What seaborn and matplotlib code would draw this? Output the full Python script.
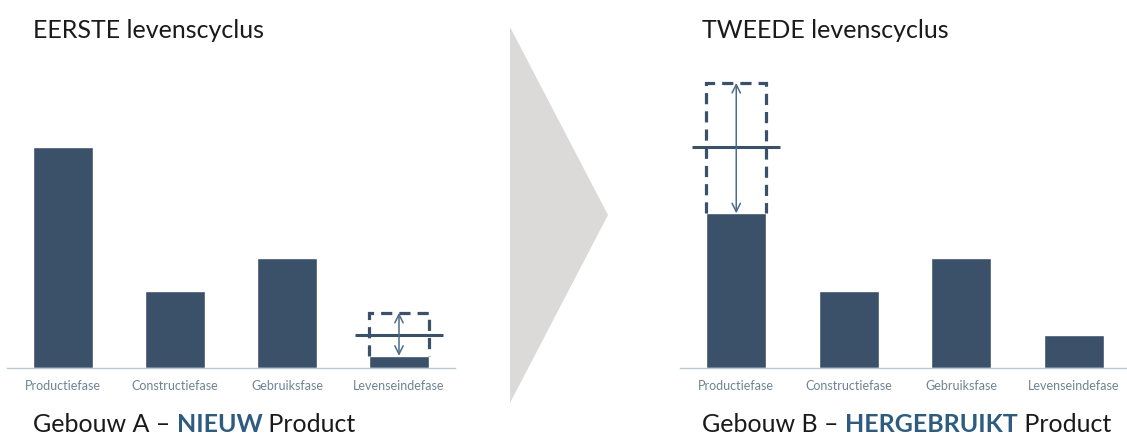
import matplotlib
matplotlib.use("Agg")
import matplotlib.pyplot as plt
from matplotlib.patches import Polygon
import seaborn as sns

# Gegevens
fases = ["Productiefase", "Constructiefase", "Gebruiksfase", "Levenseindefase"]
impact_a = [100, 35, 50, 5.5]     # Gebouw A - nieuw product
impact_b = [70, 35, 50, 15]       # Gebouw B - hergebruikt product

# fase met verschoven impact, niveau van de lijn en bovenkant van het gestippelde kader
shift_a = {"fase": "Levenseindefase", "ref": 15, "top": 25}
shift_b = {"fase": "Productiefase", "ref": 100, "top": 129}

titles = ["EERSTE levenscyclus", "TWEEDE levenscyclus"]
captions = [("Gebouw A – ", "NIEUW", " Product"), ("Gebouw B – ", "HERGEBRUIKT", " Product")]

bar_color = "#3b5069"
arrow_color = "#4b6c88"
label_color = "#6f8394"
accent = "#2e5c80"
BAR_W = 0.53

sns.set_style("white")
plt.rcParams["font.family"] = ["Lato", "DejaVu Sans"]

W, H = 1127, 441
fig = plt.figure(figsize=(W / 100, H / 100), dpi=100)

base = (441 - 368) / H
height = 309.4 / H
ax_a = fig.add_axes([7 / W, base, 448 / W, height])
ax_b = fig.add_axes([680 / W, base, 450 / W, height])


def draw_panel(ax, values, shift):
    sns.barplot(x=fases, y=values, color=bar_color, saturation=1, width=BAR_W, ax=ax)
    i = fases.index(shift["fase"])
    val = values[i]
    # gestippeld kader (zijkanten en bovenkant)
    left, right = i - BAR_W / 2, i + BAR_W / 2
    ax.plot([left, left, right, right], [val, shift["top"], shift["top"], val],
            color=bar_color, linestyle=(0, (3.5, 2.2)), linewidth=2.3,
            dash_joinstyle="miter")
    ax.hlines(shift["ref"], i - 0.39, i + 0.39, color=bar_color, linewidth=2.2)
    ax.annotate("", xy=(i, val), xytext=(i, shift["top"]),
                arrowprops=dict(arrowstyle="<->,head_length=0.6,head_width=0.3",
                                color=arrow_color, lw=1.1, shrinkA=0, shrinkB=0))
    ax.set_xlim(-0.5, 3.5)
    ax.set_ylim(0, 140)
    ax.set_xlabel("")
    ax.set_ylabel("")
    ax.set_yticks([])
    ax.tick_params(axis="x", length=0, pad=9, labelsize=9, labelcolor=label_color)
    sns.despine(ax=ax, left=True)
    ax.spines["bottom"].set_color("#b8cad6")
    ax.spines["bottom"].set_linewidth(1.0)


draw_panel(ax_a, impact_a, shift_a)
draw_panel(ax_b, impact_b, shift_b)

# grijze pijl tussen de twee levenscycli
fig.patches.append(Polygon([(510 / W, 1 - 27 / H), (608 / W, 1 - 215 / H), (510 / W, 1 - 403 / H)],
                           closed=True, transform=fig.transFigure, facecolor="#dcdad9",
                           edgecolor="none"))

# titels en onderschriften
FS = 18
for x0, title, cap in [(33, titles[0], captions[0]), (702, titles[1], captions[1])]:
    fig.text(x0 / W, 1 - 30 / H, title, fontsize=FS, color="#1a1a1a", va="center")
    t = fig.text(x0 / W, 1 - 425 / H, cap[0], fontsize=FS, color="#1a1a1a", va="center")
    a1 = ax_a.annotate(cap[1], xy=(1, 0), xycoords=t, va="bottom", fontsize=FS,
                       color=accent, fontweight="bold", annotation_clip=False)
    ax_a.annotate(cap[2], xy=(1, 0), xycoords=a1, va="bottom", fontsize=FS,
                  color="#1a1a1a", annotation_clip=False)

fig.savefig("out.png", dpi=100)
